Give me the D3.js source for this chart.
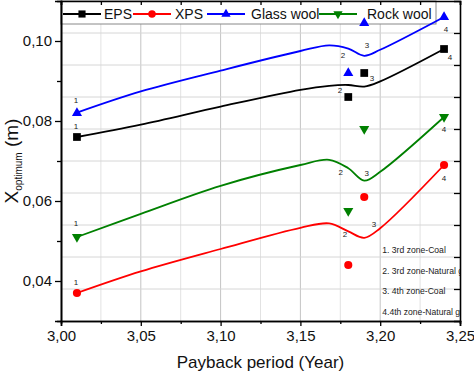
<!DOCTYPE html>
<html>
<head>
<meta charset="utf-8">
<script src="https://cdn.jsdelivr.net/npm/d3@7"></script>
<style>
  body { margin: 0; background: #fff; }
  svg { display: block; font-family: "Liberation Sans", Arial, sans-serif; }
</style>
</head>
<body>
<div id="chart"></div>
<script>
// Data
var seriesNames = ['EPS', 'XPS', 'Glass wool', 'Rock wool'];
var pointX = [3.01, 3.18, 3.19, 3.24];
var epsPoints = [0.076, 0.086, 0.092, 0.098];
var xpsPoints = [0.037, 0.044, 0.061, 0.069];
var glassPoints = [0.082, 0.092, 0.1045, 0.106];
var rockPoints = [0.051, 0.0575, 0.078, 0.081];

// smoothed curves
var curveX = [3.01, 3.05, 3.10, 3.15, 3.168, 3.18, 3.19, 3.20, 3.24];
var epsCurve = [0.0760, 0.0791, 0.0836, 0.0878, 0.0888, 0.0890, 0.0886, 0.0899, 0.0980];
var xpsCurve = [0.0370, 0.0424, 0.0480, 0.0533, 0.0544, 0.0524, 0.0508, 0.0532, 0.0690];
var glassCurve = [0.0821, 0.0874, 0.0926, 0.0975, 0.0989, 0.0981, 0.0963, 0.0978, 0.1060];
var rockCurve = [0.0510, 0.0568, 0.0638, 0.0690, 0.0703, 0.0682, 0.0651, 0.0673, 0.0810];

// where the point numbers 1..4 sit (data units)
var epsNumbers = [[3.0094, 0.0786], [3.1748, 0.0876], [3.1949, 0.0908], [3.2437, 0.0960]];
var xpsNumbers = [[3.0094, 0.0398], [3.1780, 0.0518], [3.1961, 0.0543], [3.2400, 0.0657]];
var glassNumbers = [[3.0094, 0.0853], [3.1767, 0.0965], [3.1917, 0.0990], [3.2412, 0.1030]];
var rockNumbers = [[3.0094, 0.0545], [3.1753, 0.0673], [3.1915, 0.0670], [3.2400, 0.0780]];

var xTicks = [3.00, 3.05, 3.10, 3.15, 3.20, 3.25];
var xMinorTicks = [3.025, 3.075, 3.125, 3.175, 3.225];
var yTicks = [0.04, 0.06, 0.08, 0.10];
var yMinorTicks = [0.05, 0.07, 0.09];
var notes = ['1. 3rd zone-Coal', '2. 3rd zone-Natural gas', '3. 4th zone-Coal', '4.4th zone-Natural gas'];

var svgWidth = 474;
var svgHeight = 372;
var margin = { top: 1, right: 14, bottom: 51, left: 61 };
var width = svgWidth - margin.left - margin.right;
var height = svgHeight - margin.top - margin.bottom;

var svg = d3.select('#chart')
    .append('svg')
    .attr('width', svgWidth)
    .attr('height', svgHeight);

var chartGroup = svg.append('g')
    .attr('transform', `translate(${margin.left}, ${margin.top})`);

// Scales
var xScale = d3.scaleLinear().domain([3.00, 3.25]).range([0, width]);
var yScale = d3.scaleLinear().domain([0.03, 0.11]).range([height, 0]);
// right axis of the original splits the height in 10 parts
var yRight = d3.scaleLinear().domain([0, 10]).range([height, 0]);

var comma = v => d3.format('.2f')(v).replace('.', ',');

svg.append('defs').append('clipPath').attr('id', 'plotClip')
    .append('rect').attr('width', width).attr('height', height);

// Grid
var grid = chartGroup.append('g');
grid.selectAll('.vminor')
    .data(xMinorTicks)
    .enter()
    .append('line')
    .attr('x1', d => xScale(d)).attr('x2', d => xScale(d))
    .attr('y1', 0).attr('y2', height)
    .attr('stroke', '#e2e2e2');
grid.selectAll('.vmajor')
    .data(xTicks.slice(1, -1))
    .enter()
    .append('line')
    .attr('x1', d => xScale(d)).attr('x2', d => xScale(d))
    .attr('y1', 0).attr('y2', height)
    .attr('stroke', '#c4c4c4');
grid.selectAll('.hgrid')
    .data(d3.range(1, 10))
    .enter()
    .append('line')
    .attr('x1', 0).attr('x2', width)
    .attr('y1', d => yRight(d)).attr('y2', d => yRight(d))
    .attr('stroke', '#d6d6d6');

// Notes at the bottom right (clipped by the frame like the original)
var noteGroup = chartGroup.append('g').attr('clip-path', 'url(#plotClip)');
noteGroup.selectAll('text')
    .data(notes)
    .enter()
    .append('text')
    .attr('x', xScale(3.2013))
    .attr('y', (d, i) => yScale(0.0469) + i * 20.5)
    .attr('font-size', '8.6px')
    .attr('fill', '#222')
    .text(d => d);

// Legend
var legendGroup = chartGroup.append('g');
legendGroup.append('rect')
    .attr('x', 0).attr('y', 0)
    .attr('width', 375).attr('height', 23)
    .attr('fill', '#fff')
    .attr('stroke', '#888')
    .attr('stroke-width', 1);

var colors = ['#000000', '#ff0000', '#0000ff', '#008000'];
var shapes = [d3.symbolSquare, d3.symbolCircle, d3.symbolTriangle, d3.symbolTriangle];
var sizes = [60, 52, 44, 44];
var rotate = [0, 0, 0, 180];

var series = [
    { points: epsPoints, curve: epsCurve, numbers: epsNumbers },
    { points: xpsPoints, curve: xpsCurve, numbers: xpsNumbers },
    { points: glassPoints, curve: glassCurve, numbers: glassNumbers },
    { points: rockPoints, curve: rockCurve, numbers: rockNumbers }
];

var legendX = [2, 72, 146, 258];
var legendText = [43, 114, 190, 306];
seriesNames.forEach(function(name, i) {
    var g = legendGroup.append('g');
    g.append('line')
        .attr('x1', legendX[i]).attr('x2', legendX[i] + 38)
        .attr('y1', 13).attr('y2', 13)
        .attr('stroke', colors[i]).attr('stroke-width', 1.8);
    g.append('path')
        .attr('d', d3.symbol().type(shapes[i]).size(sizes[i] * 0.85))
        .attr('transform', `translate(${legendX[i] + 19}, 13) rotate(${rotate[i]})`)
        .attr('fill', colors[i]);
    g.append('text')
        .attr('x', legendText[i]).attr('y', 13)
        .attr('dy', '0.35em')
        .attr('font-size', '14px')
        .attr('fill', '#111')
        .text(name);
});

// Curves
var line = d3.line()
    .x(d => xScale(d[0]))
    .y(d => yScale(d[1]))
    .curve(d3.curveCatmullRom.alpha(0.5));

series.forEach(function(s, i) {
    chartGroup.append('path')
        .datum(curveX.map((x, k) => [x, s.curve[k]]))
        .attr('d', line)
        .attr('fill', 'none')
        .attr('stroke', colors[i])
        .attr('stroke-width', 1.8);
});

// Markers and point numbers
series.forEach(function(s, i) {
    chartGroup.selectAll('.m' + i)
        .data(s.points)
        .enter()
        .append('path')
        .attr('d', d3.symbol().type(shapes[i]).size(sizes[i]))
        .attr('transform', (d, k) => `translate(${xScale(pointX[k])}, ${yScale(d)}) rotate(${rotate[i]})`)
        .attr('fill', colors[i]);

    chartGroup.selectAll('.n' + i)
        .data(s.numbers)
        .enter()
        .append('text')
        .attr('x', d => xScale(d[0]))
        .attr('y', d => yScale(d[1]))
        .attr('dy', '0.35em')
        .attr('text-anchor', 'middle')
        .attr('font-size', '8px')
        .attr('fill', '#222')
        .text((d, k) => k + 1);
});

// Axes
var bottomAxis = d3.axisBottom(xScale).tickValues(xTicks).tickFormat(comma).tickSize(5).tickPadding(4);
var bottomMinor = d3.axisBottom(xScale).tickValues(xMinorTicks).tickFormat('').tickSize(3);
var leftAxis = d3.axisLeft(yScale).tickValues(yTicks).tickFormat(comma).tickSize(6).tickPadding(3);
var leftMinor = d3.axisLeft(yScale).tickValues(yMinorTicks).tickFormat('').tickSize(4);
var topAxis = d3.axisBottom(xScale).tickValues(xTicks.concat(xMinorTicks)).tickFormat('').tickSize(4);
var rightAxis = d3.axisLeft(yRight).tickValues(d3.range(1, 10)).tickFormat('').tickSize(6);

function styleAxis(g) {
    g.select('.domain').attr('stroke', '#000').attr('stroke-width', 1.6);
    g.selectAll('.tick line').attr('stroke', '#000').attr('stroke-width', 1.3);
    g.selectAll('.tick text').attr('font-size', '15px').attr('fill', '#111')
        .attr('font-family', '"Liberation Sans", Arial, sans-serif');
}

chartGroup.append('g').attr('transform', `translate(0, ${height})`).call(bottomAxis).call(styleAxis);
chartGroup.append('g').attr('transform', `translate(0, ${height})`).call(bottomMinor).call(styleAxis);
chartGroup.append('g').call(leftAxis).call(styleAxis);
chartGroup.append('g').call(leftMinor).call(styleAxis);
chartGroup.append('g').call(topAxis).call(styleAxis);
chartGroup.append('g').attr('transform', `translate(${width}, 0)`).call(rightAxis).call(styleAxis);

// Axis titles
svg.append('text')
    .attr('x', margin.left + width / 2)
    .attr('y', 368)
    .attr('text-anchor', 'middle')
    .attr('font-size', '17px')
    .attr('fill', '#111')
    .text('Payback period (Year)');

var yTitle = svg.append('text')
    .attr('transform', `translate(18, ${margin.top + 160}) rotate(-90)`)
    .attr('text-anchor', 'middle')
    .attr('font-size', '19px')
    .attr('fill', '#111');
yTitle.append('tspan').text('X');
yTitle.append('tspan').attr('font-size', '10px').attr('dy', 4).text('optimum');
yTitle.append('tspan').attr('dy', -4).text(' (m)');
</script>
</body>
</html>
